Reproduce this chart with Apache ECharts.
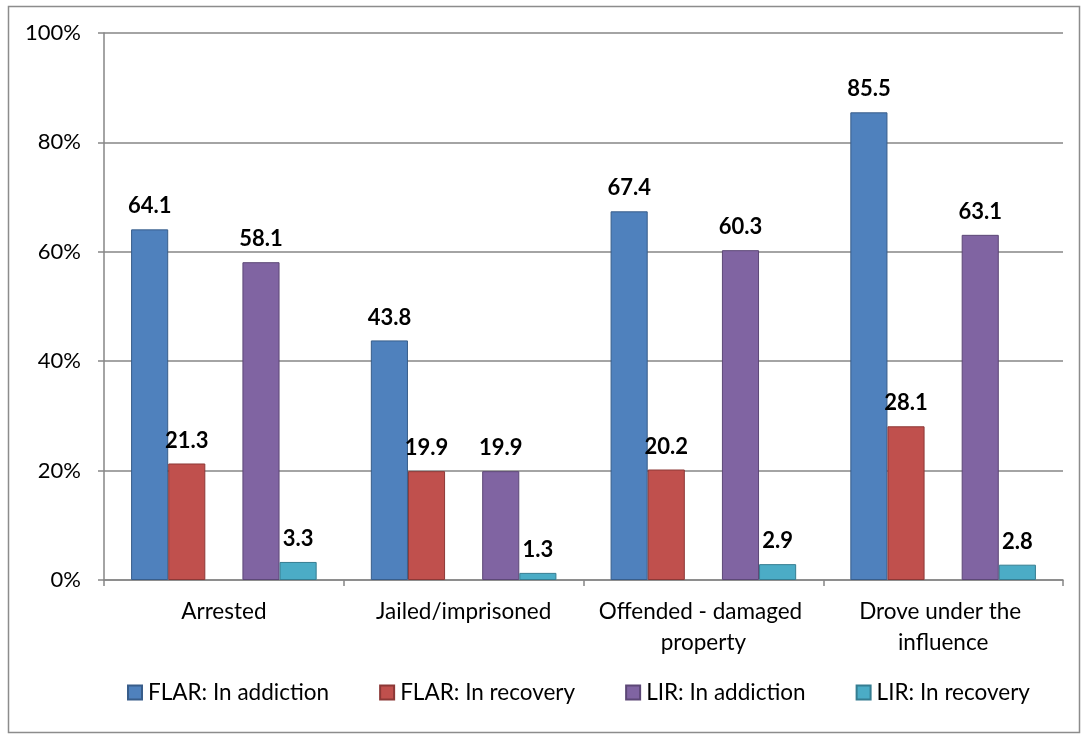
<!DOCTYPE html>
<html>
<head>
<meta charset="utf-8">
<script src="https://cdn.jsdelivr.net/npm/echarts@6/dist/echarts.min.js"></script>
<style>
html,body{margin:0;padding:0;background:#fff;}
#c{width:1083px;height:734px;}
</style>
</head>
<body>
<div id="c"></div>
<script>
var categories = ['Arrested', 'Jailed/imprisoned', 'Offended - damaged property', 'Drove under the influence'];
var flarAddiction = [64.1, 43.8, 67.4, 85.5];
var flarRecovery = [21.3, 19.9, 20.2, 28.1];
var lirAddiction = [58.1, 19.9, 60.3, 63.1];
var lirRecovery = [3.3, 1.3, 2.9, 2.8];
var spacer = [null, null, null, null];
var yTicks = { min: 0, max: 100, interval: 20 };
var seriesNames = ['FLAR: In addiction', 'FLAR: In recovery', 'LIR: In addiction', 'LIR: In recovery'];

var FONT = 'Lato';
var labelStyle = {
  show: true,
  position: 'top',
  distance: 12,
  fontFamily: FONT,
  fontWeight: 'bold',
  fontSize: 22,
  color: '#000',
  formatter: function (p) { return p.value.toFixed(1); }
};
function barSeries(name, data, color, border) {
  return {
    name: name,
    type: 'bar',
    data: data,
    itemStyle: { color: color, borderColor: border, borderWidth: 1 },
    label: labelStyle,
    emphasis: { disabled: true }
  };
}

var chart = echarts.init(document.getElementById('c'), null, { renderer: 'canvas' });
chart.setOption({
  animation: false,
  backgroundColor: '#fff',
  textStyle: { fontFamily: FONT },
  graphic: [{
    type: 'rect',
    shape: { x: 8.5, y: 6.5, width: 1071, height: 726 },
    style: { fill: 'none', stroke: '#8c8c8c', lineWidth: 1.5 },
    silent: true,
    z: -1
  }],
  grid: { left: 104, right: 20, top: 33, bottom: 154, containLabel: false },
  legend: {
    data: seriesNames,
    bottom: 25,
    left: 122,
    itemWidth: 14,
    itemHeight: 14,
    itemGap: 50,
    icon: 'rect',
    textStyle: { fontFamily: FONT, fontSize: 22.5, color: '#000', padding: [0, 0, 0, 1] }
  },
  xAxis: {
    type: 'category',
    data: categories,
    axisLine: { lineStyle: { color: '#868686', width: 1.5 } },
    axisTick: { show: true, length: 6, alignWithLabel: false, lineStyle: { color: '#868686', width: 1.5 } },
    axisLabel: {
      interval: 0,
      margin: 16,
      fontFamily: FONT,
      fontSize: 22.5,
      lineHeight: 31,
      color: '#000',
      width: 225,
      overflow: 'break'
    }
  },
  yAxis: {
    type: 'value',
    min: yTicks.min,
    max: yTicks.max,
    interval: yTicks.interval,
    axisLine: { show: true, lineStyle: { color: '#868686', width: 1.5 } },
    axisTick: { show: true, length: 6, lineStyle: { color: '#868686', width: 1.5 } },
    splitLine: { show: true, lineStyle: { color: '#868686', width: 1.5 } },
    axisLabel: {
      margin: 23,
      fontFamily: FONT,
      fontSize: 22,
      color: '#000',
      formatter: '{value}%'
    }
  },
  series: [
    Object.assign(barSeries(seriesNames[0], flarAddiction, '#4F81BD', '#385D8A'), { barGap: '0%', barCategoryGap: '22.6%' }),
    barSeries(seriesNames[1], flarRecovery, '#C0504D', '#8C3836'),
    { name: 'spacer', type: 'bar', data: spacer, silent: true },
    barSeries(seriesNames[2], lirAddiction, '#8064A2', '#5C4776'),
    barSeries(seriesNames[3], lirRecovery, '#4BACC6', '#357D91')
  ]
});
</script>
</body>
</html>
